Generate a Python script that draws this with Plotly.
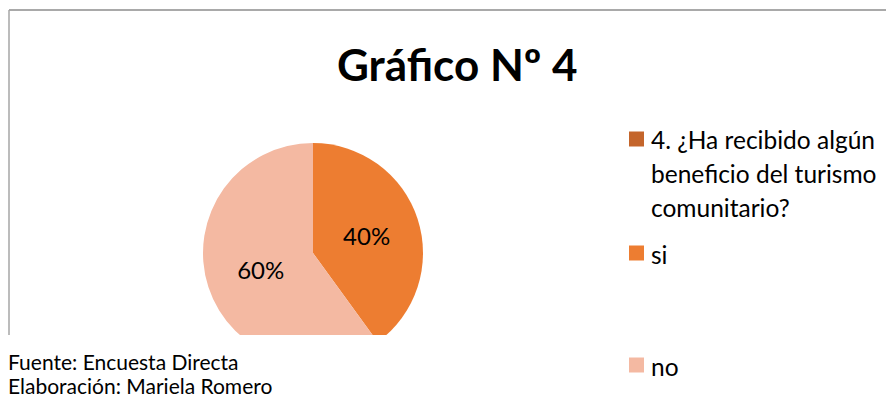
import plotly.graph_objects as go

W, H = 894, 408
OFF = 8  # page body margin

title_text = "Gráfico Nº 4"
categories = ["4. ¿Ha recibido algún<br>beneficio del turismo<br>comunitario?", "si", "no"]
values = [0, 40, 60]
colors = ["#C4652B", "#ED7D31", "#F4B9A2"]
footer_lines = ["Fuente: Encuesta Directa", "Elaboración: Mariela Romero"]

FONT = "Lato"

def px(x):
    return (x - OFF) / W

def py(y):
    return 1 - (y - OFF) / H

cx, cy, r = 313, 253, 110

fig = go.Figure()
fig.add_trace(go.Pie(
    labels=categories,
    values=values,
    marker=dict(colors=colors, line=dict(width=0)),
    sort=False,
    direction="clockwise",
    rotation=0,
    texttemplate=["", "%{percent:.0%}", "%{percent:.0%}"],
    textposition="inside",
    insidetextorientation="horizontal",
    textfont=dict(family=FONT, size=24, color="#000000"),
    showlegend=False,
    hoverinfo="label+percent",
    domain=dict(x=[px(cx - r), px(cx + r)], y=[py(cy + r), py(cy - r)]),
))

shapes = []
annotations = []

# border lines
shapes.append(dict(type="line", xref="paper", yref="paper", x0=px(9), x1=px(W + 20), y0=py(10), y1=py(10),
                   line=dict(color="#8C8C8C", width=1.5), layer="above"))
shapes.append(dict(type="line", xref="paper", yref="paper", x0=px(9), x1=px(9), y0=py(10), y1=py(335),
                   line=dict(color="#A6A6A6", width=1.5), layer="above"))
# white cover for footer
shapes.append(dict(type="rect", xref="paper", yref="paper", x0=px(-20), x1=px(600), y0=py(H + 20), y1=py(335),
                   fillcolor="#FFFFFF", line=dict(width=0), layer="above"))

# legend
legend_y = [139, 253, 365]
LINE_H = 33.5
for lab, col, ly in zip(categories, colors, legend_y):
    shapes.append(dict(type="rect", xref="paper", yref="paper", x0=px(629), x1=px(644),
                       y0=py(ly + 7.5), y1=py(ly - 7.5), fillcolor=col, line=dict(width=0), layer="above"))
    for j, part in enumerate(lab.split("<br>")):
        annotations.append(dict(text=part, xref="paper", yref="paper", x=px(649), y=py(ly + 1 + j * LINE_H),
                                xanchor="left", yanchor="middle", showarrow=False, align="left",
                                font=dict(family=FONT, size=24.5, color="#000000")))

# footer
for i, line in enumerate(footer_lines):
    annotations.append(dict(text=line, xref="paper", yref="paper", x=px(6), y=py(361 + 24.5 * i),
                            xanchor="left", yanchor="middle", showarrow=False,
                            font=dict(family=FONT, size=21, color="#000000")))

# title
annotations.append(dict(text="<b>" + title_text + "</b>", xref="paper", yref="paper", x=px(457), y=py(64),
                        xanchor="center", yanchor="middle", showarrow=False,
                        font=dict(family=FONT, size=44, color="#000000")))

fig.update_layout(
    width=W, height=H,
    margin=dict(l=0, r=0, t=0, b=0),
    paper_bgcolor="#FFFFFF",
    plot_bgcolor="#FFFFFF",
    shapes=shapes,
    annotations=annotations,
    showlegend=False,
)

fig.write_html("out.html")
